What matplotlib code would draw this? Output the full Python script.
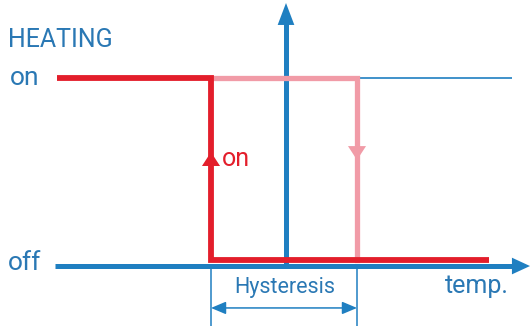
import matplotlib.pyplot as plt

# hysteresis diagram: heating state vs temperature
# x in arbitrary temperature units (0 = vertical axis), y: 0 = off, 1 = on
t_switch_on = -7.5
t_switch_off = 7.1
t_start = -22.9
t_red_end = 20.3
t_line_end = 22.6
off_level = 0.032   # red "off" line sits just above the axis

# heating on path (falling temp): on -> switch on point
heat_on_x = [t_start, t_switch_on, t_switch_on, t_red_end]
heat_on_y = [1, 1, off_level, off_level]
# heating off path (rising temp)
heat_off_x = [t_switch_on, t_switch_off, t_switch_off]
heat_off_y = [1, 1, off_level]

blue = '#1f7fc1'
text_blue = '#2a78b4'
red = '#e31e2b'
pink = '#f19ba7'

plt.rcParams['font.family'] = ['Roboto', 'DejaVu Sans']

fig = plt.figure(figsize=(5.32, 3.26), dpi=100)
ax = fig.add_axes([0, 0, 1, 1])
ax.set_xlim(-28.6, 24.6)
ax.set_ylim(-0.319, 1.415)
ax.axis('off')


def head(tip, tail, length, half_width, color):
    ax.annotate('', xy=tip, xytext=tail,
                arrowprops=dict(arrowstyle=f'-|>,head_length={length},head_width={half_width}',
                                color=color, lw=0, shrinkA=0, shrinkB=0,
                                mutation_scale=1))


# thin blue continuation of "on" level
ax.plot([t_switch_off, t_line_end], [1, 1], color=blue, lw=1.2, solid_capstyle='butt')

# axes
ax.plot([-23.1, 23.0], [0, 0], color=blue, lw=3.6, solid_capstyle='butt', zorder=2)
head((24.4, 0), (15, 0), 13, 6.0, blue)
ax.plot([0, 0], [0, 1.3], color=blue, lw=3.6, solid_capstyle='butt', zorder=2)
head((0, 1.399), (0, 0.8), 15.8, 6.0, blue)

# pink (switch off) path
ax.plot(heat_off_x, heat_off_y, color=pink, lw=3.8, solid_joinstyle='miter', zorder=3)
head((t_switch_off, 0.564), (t_switch_off, 0.9), 10, 6.5, pink)

# red (switch on) path
ax.plot(heat_on_x, heat_on_y, color=red, lw=4.2, solid_joinstyle='miter',
        solid_capstyle='butt', zorder=4)
head((t_switch_on, 0.606), (t_switch_on, 0.2), 10, 6.5, red)

# hysteresis dimension
for t in [t_switch_on, t_switch_off]:
    ax.plot([t, t], [0, -0.319], color=blue, lw=1.1)
ax.annotate('', xy=(t_switch_on, -0.223), xytext=(t_switch_off, -0.223),
            arrowprops=dict(arrowstyle='<|-|>,head_length=9,head_width=3.8',
                            color=blue, lw=1.1, shrinkA=0, shrinkB=0, mutation_scale=1))

# labels
ax.text(-27.8, 1.165, 'HEATING', color=text_blue, fontsize=18, va='baseline')
ax.text(-27.6, 0.963, 'on', color=text_blue, fontsize=19, va='baseline')
ax.text(-27.8, -0.021, 'off', color=text_blue, fontsize=19, va='baseline')
ax.text(-6.4, 0.532, 'on', color=red, fontsize=18, va='baseline')
ax.text(-0.1, -0.144, 'Hysteresis', color=text_blue, fontsize=15.5, va='baseline', ha='center')
ax.text(15.9, -0.144, 'temp.', color=text_blue, fontsize=18, va='baseline')

fig.savefig('out.png', dpi=100)
